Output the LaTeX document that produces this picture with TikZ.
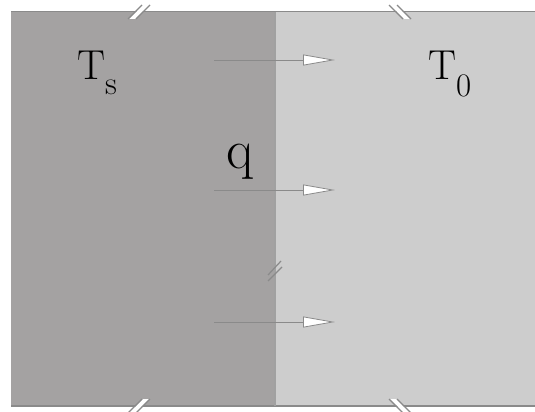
\documentclass[tikz,border=0pt]{standalone}
\usepackage{tikz}
\usetikzlibrary{arrows.meta,positioning,calc}

\definecolor{hotgray}{HTML}{A4A2A2}
\definecolor{coldgray}{HTML}{CDCDCD}
\definecolor{edgegray}{HTML}{8A8A8A}

\newcommand{\lowsub}[2]{\raisebox{-#1}{\fontsize{33}{36}\selectfont #2}}

\begin{document}
\begin{tikzpicture}[
  x=1bp,y=1bp,
  label/.style={inner sep=0pt,anchor=base west,font=\fontsize{42}{48}\selectfont},
  flux/.style={draw=edgegray,line width=0.9bp,-{Triangle[length=32bp,width=11bp,fill=white,line width=0.8bp]}},
  cut/.style={draw=edgegray,line width=1.2bp}
]
\useasboundingbox (0,0) rectangle (535,411);
% the two slabs
\fill[hotgray] (11,5) rectangle (275,399);
\fill[coldgray] (275,5) rectangle (535,399);
\draw[edgegray,line width=1bp] (11,399) -- (535,399);
\draw[edgegray,line width=1.4bp] (11,5) -- (535,5);
\draw[edgegray!80,line width=1.8bp] (275,5) -- (275,399);
% labels
\node[label] (Ts) at (77,332) {T\lowsub{15bp}{s}};
\node[label,font=\fontsize{56}{60}\selectfont] (q) at (226,243) {q};
\node[label] (T0) at (428,332) {T\lowsub{17bp}{0}};
% heat flux arrows
\foreach \y/\n in {351/1,221/2,89/3}{
  \coordinate (from\n) at (214,\y);
  \coordinate (to\n) at (335,\y);
  \draw[flux] (from\n) -- (to\n);
}
% break marks
\foreach \x/\y/\s in {139/399/1,139/5/1,400/399/-1,400/5/-1}{
  \fill[white] (\x-7*\s-3,\y-7) -- (\x-7*\s+3,\y-7) -- (\x+7*\s+3,\y+7) -- (\x+7*\s-3,\y+7) -- cycle;
  \draw[cut] (\x-7*\s-4,\y-7) -- (\x+7*\s-4,\y+7);
  \draw[cut] (\x-7*\s+4,\y-7) -- (\x+7*\s+4,\y+7);
}
\draw[cut] (268,136) -- (281,150);
\draw[cut] (268,130) -- (282,144);
\end{tikzpicture}
\end{document}
